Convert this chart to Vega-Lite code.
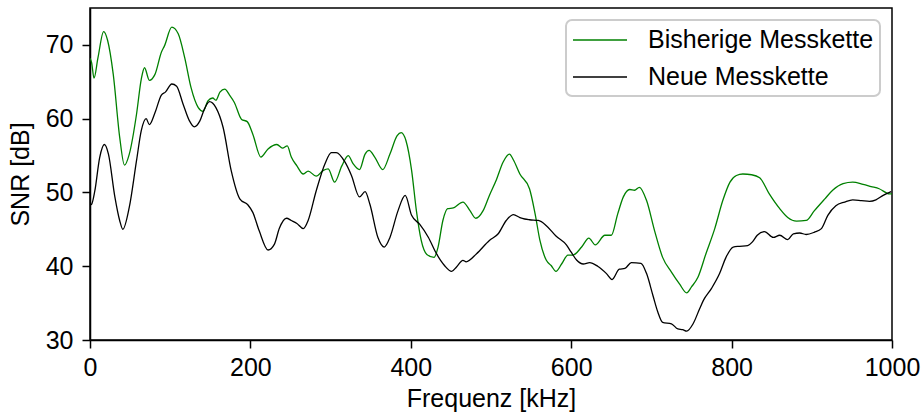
{
  "$schema": "https://vega.github.io/schema/vega-lite/v6.json",
  "width": 802,
  "height": 332,
  "autosize": {"type": "none"},
  "padding": {"left": 90, "top": 8, "right": 30, "bottom": 74},
  "background": "white",
  "datasets": {
    "green": [
      [0,68.2],[2,67.6],[5,65.5],[10,68.3],[17,71.8],[22,70.6],[29,66],[37,57.5],[43,53.7],[49,55.2],[58,60.6],[64,65.4],[68,66.9],[74,65.2],[81,66],[89,69],[93,69.9],[102,72.4],[110,71.5],[118,68.3],[126,64.2],[135,61.5],[141,61],[147,62.4],[153,62.8],[157,62.5],[162,63.6],[168,64],[174,63.2],[180,62.2],[189,59.9],[196,59.6],[203,57.9],[213,54.8],[222,55.9],[233,56.5],[240,56],[246,56.3],[251,54.8],[258,53.6],[266,52.5],[272,52.9],[282,52.2],[291,53],[297,53.2],[305,51.4],[314,53.6],[322,55],[328,53.9],[336,53.1],[343,55.2],[348,55.7],[355,54.8],[365,53.1],[374,55.2],[383,57.7],[388,58.1],[394,57],[401,53],[407,47.5],[413,43.5],[420,41.6],[429,41.2],[434,42.6],[440,46.2],[446,47.8],[453,47.9],[465,48.7],[474,47.5],[481,46.5],[490,47.5],[498,49.6],[507,51.8],[515,54.1],[523,55.2],[528,54.4],[536,52.5],[548,50.5],[555,47.1],[561,43.5],[569,40.8],[575,40.1],[581,39.3],[588,40.3],[596,41.5],[602,41.5],[613,42.6],[622,43.8],[630,42.9],[642,44.2],[650,44.2],[658,47.1],[665,49.4],[673,50.4],[679,50.3],[685,50.7],[694,48.9],[704,44.8],[714,41.2],[725,39.2],[735,37.6],[744,36.4],[750,37.2],[758,38.5],[768,41.7],[779,45.1],[789,48.9],[798,51.4],[806,52.3],[814,52.5],[825,52.4],[835,52],[847,49.8],[860,47.8],[870,46.6],[881,46.1],[893,46.2],[903,47.5],[916,49.1],[926,50.3],[939,51.2],[951,51.4],[964,51.1],[974,50.8],[984,50.5],[997,49.8],[1000,49.8]
    ],
    "black": [
      [0,48.3],[2,48.4],[6,50.2],[12,54.7],[18,56.5],[23,55.2],[31,49.4],[37,46.2],[41,45],[49,48],[58,54.3],[64,58.4],[70,60],[74,59.2],[81,60.8],[89,63.2],[94,63.6],[102,64.7],[108,64.4],[116,62],[124,59.7],[130,58.9],[137,59.7],[143,61.4],[149,62.3],[157,61.5],[166,58.8],[176,53],[187,49.1],[197,48.3],[203,47.3],[211,44.8],[222,42.2],[230,43],[236,45.1],[245,46.5],[251,46.2],[258,45.8],[266,45.1],[272,46.2],[282,50.2],[293,53.9],[301,55.4],[307,55.4],[318,54.1],[326,52.3],[336,49.4],[343,50.1],[349,48.4],[359,43.9],[367,42.6],[374,43.9],[384,47.5],[393,49.6],[401,46.9],[411,45.7],[422,43.9],[432,41.7],[442,40.1],[451,39.3],[457,39.9],[465,40.8],[469,40.6],[482,41.7],[498,43.5],[509,44.4],[519,46.2],[528,47],[536,46.6],[542,46.4],[548,46.3],[559,46.2],[569,45.5],[581,44.1],[594,42.9],[600,41.9],[607,40.8],[615,40.3],[623,40.5],[633,40],[644,39],[651,38.2],[660,39.6],[667,39.7],[675,40.5],[687,40.4],[694,39],[702,36],[708,33.8],[714,32.4],[725,32.2],[733,31.5],[739,31.4],[744,31.2],[752,32.2],[760,34.2],[765,35.4],[775,37],[785,39],[793,41.2],[802,42.6],[810,42.7],[820,42.8],[826,43.3],[832,44.2],[841,44.7],[852,43.9],[860,44.2],[870,43.6],[877,44.4],[885,44.5],[893,44.3],[903,44.6],[912,45.1],[920,46.9],[930,48.2],[941,48.7],[951,49],[962,48.9],[972,48.8],[980,49],[989,49.6],[999,50.1]
    ]
  },
  "layer": [
    {
      "data": {"name": "green"},
      "transform": [
        {"calculate": "datum[0]", "as": "f"},
        {"calculate": "datum[1]", "as": "snr"},
        {"calculate": "'Bisherige Messkette'", "as": "s"}
      ],
      "mark": {"type": "line", "strokeWidth": 1.3, "interpolate": "monotone", "clip": true},
      "encoding": {
        "x": {"field": "f", "type": "quantitative"},
        "y": {"field": "snr", "type": "quantitative"},
        "color": {"field": "s", "type": "nominal"}
      }
    },
    {
      "data": {"name": "black"},
      "transform": [
        {"calculate": "datum[0]", "as": "f"},
        {"calculate": "datum[1]", "as": "snr"},
        {"calculate": "'Neue Messkette'", "as": "s"}
      ],
      "mark": {"type": "line", "strokeWidth": 1.3, "interpolate": "monotone", "clip": true},
      "encoding": {
        "x": {
          "field": "f", "type": "quantitative",
          "scale": {"domain": [0, 1000], "nice": false, "zero": false},
          "axis": {"title": "Frequenz [kHz]", "values": [0, 200, 400, 600, 800, 1000], "format": "d", "labelPadding": 7, "titlePadding": 6}
        },
        "y": {
          "field": "snr", "type": "quantitative",
          "scale": {"domain": [30, 75], "nice": false, "zero": false},
          "axis": {"title": "SNR [dB]", "values": [30, 40, 50, 60, 70], "format": "d", "labelPadding": 9, "titlePadding": 12}
        },
        "color": {
          "field": "s", "type": "nominal",
          "scale": {"domain": ["Bisherige Messkette", "Neue Messkette"], "range": ["#008000", "#000000"]},
          "legend": {"title": null}
        }
      }
    }
  ],
  "config": {
    "view": {"stroke": "black", "strokeWidth": 1.5},
    "axis": {
      "grid": false,
      "domainColor": "black",
      "domainWidth": 1.5,
      "tickColor": "black",
      "tickWidth": 1.5,
      "tickSize": 8,
      "labelFont": "Liberation Sans",
      "labelFontSize": 25,
      "labelColor": "black",
      "labelFlush": false,
      "labelOverlap": false,
      "titleFont": "Liberation Sans",
      "titleFontSize": 25,
      "titleFontWeight": "normal",
      "titleColor": "black"
    },
    "legend": {
      "orient": "top-right",
      "offset": 12,
      "padding": 6,
      "rowPadding": 10,
      "labelOffset": 48,
      "symbolType": "M-1,0H3.154",
      "symbolSize": 676,
      "symbolStrokeWidth": 1.3,
      "symbolFillColor": "transparent",
      "labelFont": "Liberation Sans",
      "labelFontSize": 25,
      "labelColor": "black",
      "labelLimit": 400,
      "strokeColor": "#cccccc",
      "strokeWidth": 2,
      "cornerRadius": 6,
      "fillColor": "white"
    }
  }
}
